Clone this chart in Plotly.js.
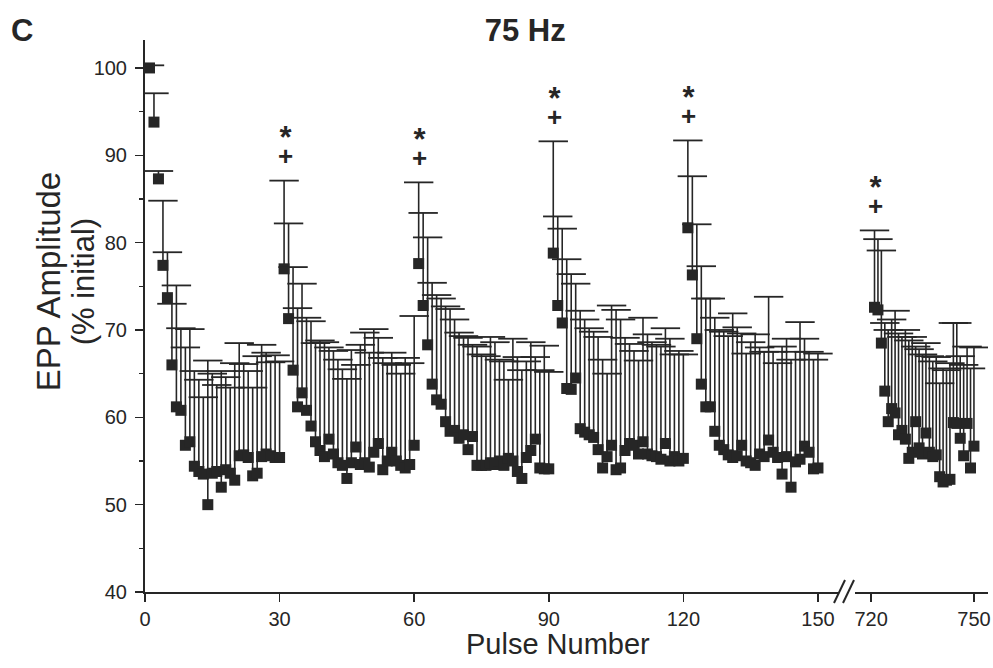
<!DOCTYPE html>
<html><head><meta charset="utf-8">
<script src="https://cdn.plot.ly/plotly-3.0.1.min.js"></script>
<style>html,body{margin:0;padding:0;background:#fff}#chart{width:993px;height:668px}</style>
</head><body><div id="chart"></div>
<script>
// First pulse number of each 30-pulse train
const trainStarts = [1, 31, 61, 91, 121, 721];
const trainLength = 30;

// Mean EPP amplitude (% initial) per pulse
const train1 = [100.0,93.8,87.3,77.4,73.7,66.0,61.2,60.8,56.8,57.2,54.4,53.8,53.5,50.0,53.6,53.8,52.0,54.0,53.6,52.8,55.6,55.7,55.4,53.3,53.6,55.5,55.8,55.6,55.4,55.4];
const train2 = [77.0,71.3,65.4,61.2,62.8,60.8,59.0,57.2,56.2,55.5,57.5,55.8,54.8,54.5,53.0,54.8,56.6,54.6,54.8,54.3,56.0,57.0,54.0,55.0,56.0,55.0,54.5,54.2,54.6,56.8];
const train3 = [77.6,72.8,68.3,63.8,62.0,61.5,59.5,58.4,58.5,57.6,58.0,56.3,57.8,54.5,54.5,54.5,54.8,54.6,55.0,54.5,55.3,55.0,53.8,53.0,55.4,56.2,57.5,54.2,54.1,54.1];
const train4 = [78.8,72.8,70.8,63.3,63.2,64.5,58.7,58.3,58.0,57.7,56.3,54.2,55.5,56.8,54.0,54.2,56.2,57.0,56.8,55.8,57.2,55.8,55.6,55.5,55.2,57.0,55.0,55.5,55.0,55.3];
const train5 = [81.7,76.3,69.0,63.8,61.2,61.2,58.4,56.8,56.3,55.7,55.4,55.6,56.8,55.0,54.8,54.5,55.8,55.5,57.4,56.0,55.4,53.5,55.5,52.0,54.9,55.2,56.7,56.0,54.1,54.2];
const train6 = [72.6,72.3,68.5,63.0,59.5,61.0,60.5,58.0,58.5,57.5,55.3,56.0,59.5,56.5,55.8,58.2,56.0,55.5,55.7,53.2,52.6,52.8,52.9,59.4,59.3,57.6,55.6,59.3,54.2,56.7];

// Top of the upper error bar (mean + SEM) per pulse
const train1Top = [100.3,97.1,88.2,84.8,78.9,73.0,75.1,70.2,68.0,70.1,65.3,64.3,62.3,66.5,65.0,63.7,65.3,64.6,63.4,66.2,68.5,66.1,65.3,63.4,67.0,68.3,67.4,66.3,67.1,66.4];
const train2Top = [87.1,82.2,77.2,72.5,75.3,71.4,71.0,68.5,68.8,68.6,68.0,67.6,66.6,65.5,64.4,67.7,66.0,68.3,69.7,67.4,70.1,69.1,66.8,66.2,67.4,66.0,65.0,66.8,66.2,71.6];
const train3Top = [86.9,83.4,80.6,75.4,74.0,73.6,72.7,72.4,71.2,69.7,69.3,69.1,68.3,68.1,67.2,67.0,69.2,68.6,66.6,66.4,64.3,69.0,66.9,65.4,66.4,68.6,66.9,65.4,68.2,65.2];
const train4Top = [91.6,83.0,81.6,78.1,76.4,75.3,72.2,71.2,70.2,69.8,69.2,66.6,65.0,72.8,72.3,71.2,69.1,68.4,67.6,66.5,71.4,69.5,68.6,68.3,68.1,70.2,69.0,67.2,67.6,67.2];
const train5Top = [91.7,87.6,82.1,77.3,73.6,73.6,71.4,70.0,69.8,69.3,71.9,70.3,69.6,67.3,68.6,69.5,68.0,67.5,73.8,67.5,66.2,68.1,69.0,66.6,67.5,70.9,69.0,67.5,66.6,67.3];
const train6Top = [81.4,80.4,79.1,70.8,70.0,71.2,72.2,69.6,69.2,70.0,68.8,69.2,68.1,67.8,67.2,68.5,67.0,66.4,66.9,63.9,65.6,65.4,66.2,70.8,70.8,67.0,66.0,68.1,65.6,68.0];

// Pulses marked with * and +
const sigPulses = [31, 61, 91, 121, 721];

// Tick labels
const xTicks1 = [0, 30, 60, 90, 120, 150];
const xTicks2 = [720, 750];
const yTicks = [40, 50, 60, 70, 80, 90, 100];

const trains = [train1, train2, train3, train4, train5, train6];
const tops = [train1Top, train2Top, train3Top, train4Top, train5Top, train6Top];

function build(idxList) {
  const x = [], y = [], top = [], e = [], em = [];
  idxList.forEach(t => {
    for (let i = 0; i < trainLength; i++) {
      x.push(trainStarts[t] + i);
      y.push(trains[t][i]);
      top.push(tops[t][i]);
      e.push(Math.max(0, tops[t][i] - trains[t][i]));
      em.push(0);
    }
  });
  return {x, y, top, e, em};
}
const seg1 = build([0,1,2,3,4]);
const seg2 = build([5]);

const ink = '#262626';
function stems(seg, xa) {
  return {
    type: 'scatter', mode: 'markers', x: seg.x, y: seg.y, xaxis: xa, yaxis: 'y',
    marker: {symbol: 'square', size: 11, color: ink, line: {width: 0}},
    error_y: {type: 'data', symmetric: false, array: seg.e, arrayminus: seg.em,
              color: ink, thickness: 1.6, width: 0},
    hoverinfo: 'x+y'
  };
}
function caps(seg, xa) {
  return {
    type: 'scatter', mode: 'markers', x: seg.x, y: seg.top, xaxis: xa, yaxis: 'y',
    marker: {symbol: 'line-ew', size: 21, color: ink, line: {width: 1.8, color: ink}},
    hoverinfo: 'skip'
  };
}

function topOf(p) {
  for (let t = 0; t < trainStarts.length; t++) {
    const i = p - trainStarts[t];
    if (i >= 0 && i < trainLength) return tops[t][i];
  }
  return null;
}
const annotations = [];
sigPulses.forEach(p => {
  const xr = p > 600 ? 'x2' : 'x';
  const top = topOf(p);
  annotations.push({x: p, y: top + 4.0, xref: xr, yref: 'y',
    text: '<span style="font-size:31px"><b>*</b></span><br><span style="font-size:26px"><b>+</b></span>',
    showarrow: false, font: {size: 13, color: ink}, yanchor: 'middle', xanchor: 'center', xshift: 1});
});
annotations.push({x: 0.49, y: -0.094, xref: 'paper', yref: 'paper', text: 'Pulse Number', showarrow: false,
  font: {size: 29, color: ink}, yanchor: 'middle', xanchor: 'center'});
annotations.push({x: -0.146, y: 1.018, xref: 'paper', yref: 'paper', text: '<b>C</b>', showarrow: false,
  font: {size: 31, color: ink}, yanchor: 'middle', xanchor: 'center'});
annotations.push({x: -0.0945, y: 0.5634, xref: 'paper', yref: 'paper', textangle: -90,
  text: '<span style="font-size:33px">EPP Amplitude</span><br><span style="font-size:31px">(% initial)</span>',
  showarrow: false, font: {size: 26, color: ink}, yanchor: 'middle', xanchor: 'center'});

function px2paperX(p) { return (p - 145) / 843; }
function px2paperY(p) { return (592 - p) / 552; }
const shapes = [
  {type: 'line', xref: 'paper', yref: 'paper', x0: px2paperX(834), y0: px2paperY(603), x1: px2paperX(845), y1: px2paperY(580), line: {color: ink, width: 2}},
  {type: 'line', xref: 'paper', yref: 'paper', x0: px2paperX(843), y0: px2paperY(603), x1: px2paperX(854), y1: px2paperY(580), line: {color: ink, width: 2}}
];

const axCommon = {
  ticks: 'outside', ticklen: 8, tickwidth: 1.5, tickcolor: ink,
  showline: true, linewidth: 2, linecolor: ink, showgrid: false, zeroline: false,
  tickfont: {size: 20, color: ink}, anchor: 'y', fixedrange: true
};

const layout = {
  width: 993, height: 668,
  margin: {l: 145, r: 5, t: 40, b: 76},
  paper_bgcolor: '#fff', plot_bgcolor: '#fff', showlegend: false,
  font: {family: 'Liberation Sans, Arial, Helvetica, sans-serif', color: ink},
  title: {text: '<b>75 Hz</b>', x: 0.451, xref: 'paper', xanchor: 'center', y: 0.955, yref: 'container', yanchor: 'middle', font: {size: 31, color: ink}},
  xaxis: Object.assign({}, axCommon, {domain: [0, 0.8233], range: [0, 154.7], tickmode: 'array', tickvals: xTicks1, ticktext: xTicks1.map(String)}),
  xaxis2: Object.assign({}, axCommon, {domain: [0.8422, 1], range: [715.3, 754.1], tickmode: 'array', tickvals: xTicks2, ticktext: xTicks2.map(String)}),
  yaxis: Object.assign({}, axCommon, {anchor: 'x', range: [40, 103.2], tickmode: 'array', tickvals: yTicks, ticktext: yTicks.map(String),
    ticklabelstandoff: 4,
    minor: {tickmode: 'linear', tick0: 40, dtick: 5, ticks: 'outside', ticklen: 4, tickwidth: 1.5, tickcolor: ink}}),
  annotations: annotations,
  shapes: shapes
};

Plotly.newPlot('chart', [stems(seg1, 'x'), caps(seg1, 'x'), stems(seg2, 'x2'), caps(seg2, 'x2')], layout, {displayModeBar: false, staticPlot: true});
</script>
</body></html>
